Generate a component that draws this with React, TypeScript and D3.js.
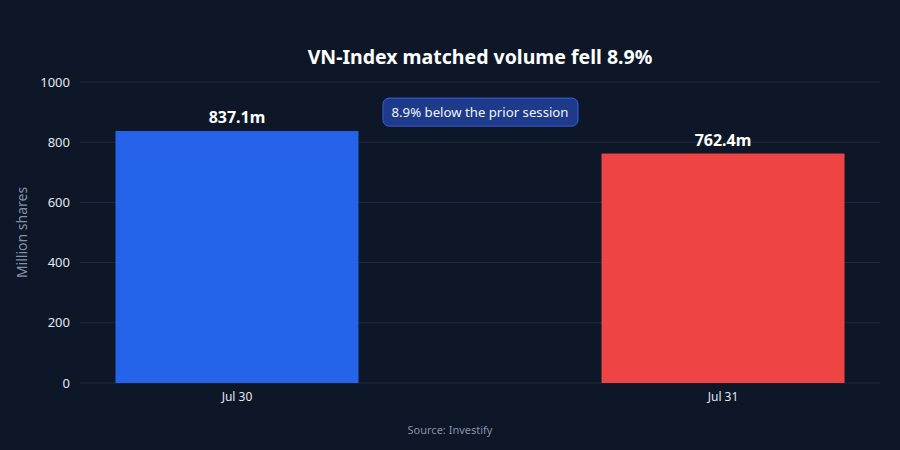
import React from 'react';
import * as d3 from 'd3';

const categories = ['Jul 30', 'Jul 31'];
const volumes = [837.1, 762.4];
const valueLabels = ['837.1m', '762.4m'];
const barColors = ['#2563eb', '#ef4444'];
const yTicks = [0, 200, 400, 600, 800, 1000];

const W = 900;
const H = 450;
const margin = { top: 82, right: 20, bottom: 67, left: 80 };

const App = () => {
    const innerW = W - margin.left - margin.right;
    const innerH = H - margin.top - margin.bottom;

    const x = d3.scaleBand<string>()
        .domain(categories)
        .range([0, innerW])
        .paddingInner(0.5)
        .paddingOuter(0.073);

    const y = d3.scaleLinear()
        .domain([0, 1000])
        .range([innerH, 0]);

    const font = '"Noto Sans", "Open Sans", sans-serif';

    return (
        <svg width={W} height={H} style={{ display: 'block', position: 'absolute', left: 0, top: 0, background: '#0d1727' }} fontFamily={font}>
            <rect width={W} height={H} fill="#0d1727" />
            <text x={margin.left + innerW / 2} y={64} textAnchor="middle" fill="#ffffff" fontSize={19.5} fontWeight="bold">
                VN-Index matched volume fell 8.9%
            </text>
            <g transform={`translate(${margin.left},${margin.top})`}>
                {yTicks.map((t) => (
                    <g key={t}>
                        <line x1={0} x2={innerW} y1={y(t)} y2={y(t)} stroke="#1e2a3d" strokeWidth={1} />
                        <text x={-10} y={y(t)} dy="0.35em" textAnchor="end" fill="#e2e8f0" fontSize={13}>{t}</text>
                    </g>
                ))}
                {categories.map((c, i) => (
                    <g key={c}>
                        <rect
                            x={x(c)}
                            y={y(volumes[i])}
                            width={x.bandwidth()}
                            height={innerH - y(volumes[i])}
                            fill={barColors[i]}
                        />
                        <text
                            x={(x(c) ?? 0) + x.bandwidth() / 2}
                            y={y(volumes[i]) - 8}
                            textAnchor="middle"
                            fill="#ffffff"
                            fontSize={16}
                            fontWeight="bold"
                        >
                            {valueLabels[i]}
                        </text>
                        <text
                            x={(x(c) ?? 0) + x.bandwidth() / 2}
                            y={innerH + 18}
                            textAnchor="middle"
                            fill="#e2e8f0"
                            fontSize={12}
                        >
                            {c}
                        </text>
                    </g>
                ))}
                {/* annotation */}
                <g transform={`translate(${innerW / 2},${y(900)})`}>
                    <rect x={-97} y={-14} width={195} height={28} rx={6} fill="#1e3a8a" stroke="#3b5fd9" strokeWidth={1} />
                    <text x={0} y={0} dy="0.35em" textAnchor="middle" fill="#f1f5f9" fontSize={13.2}>
                        8.9% below the prior session
                    </text>
                </g>
            </g>
            <text
                transform={`translate(27,${margin.top + innerH / 2}) rotate(-90)`}
                textAnchor="middle"
                fill="#8592a6"
                fontSize={14}
            >
                Million shares
            </text>
            <text x={W / 2} y={434} textAnchor="middle" fill="#8592a6" fontSize={11}>
                Source: Investify
            </text>
        </svg>
    );
};

export default App;
